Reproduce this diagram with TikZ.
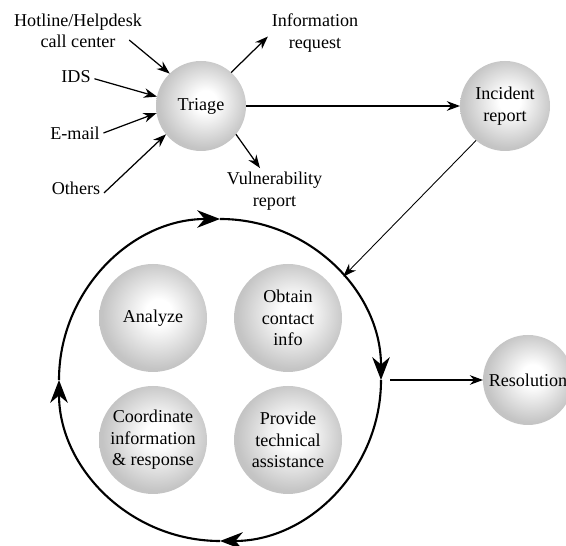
\documentclass[tikz,border=0pt]{standalone}
\usepackage{fontspec}
\setmainfont{Liberation Serif}
\usepackage{tikz}
\usetikzlibrary{positioning,calc,arrows.meta}

% soft grey sphere look
\pgfdeclareradialshading{greyball}{\pgfpoint{3bp}{3bp}}{color(0bp)=(white); color(6bp)=(white); color(25bp)=(black!23); color(50bp)=(black!23)}

\begin{document}
\begin{tikzpicture}[
  txt/.style={font=\fontsize{10.3}{12.3}\selectfont, align=center},
  lbl/.style={txt, inner sep=2pt},
  sphere/.style={txt, circle, shading=greyball, inner sep=0pt, outer sep=0pt, minimum size=1.8cm},
  bigsphere/.style={sphere, minimum size=2.16cm},
  conn/.style={line width=0.7pt, -{Stealth[length=7.5pt,width=5.5pt]}},
  ringline/.style={line width=1.2pt, -{Stealth[length=13pt,width=10pt]}}
]
\useasboundingbox (0,0) rectangle (11.32,10.92);

% Intake side
\node[sphere] (triage) at (4.02,8.80) {Triage};
\node[lbl] (hotline) at (1.56,10.30) {Hotline/Helpdesk\\call center};
\node[lbl] (ids) at (1.52,9.38) {IDS};
\node[lbl] (email) at (1.50,8.26) {E-mail};
\node[lbl] (others) at (1.52,7.16) {Others};
\node[lbl] (info) at (6.30,10.26) {Information\\request};
\node[lbl] (vuln) at (5.49,7.10) {Vulnerability\\report};

\draw[conn] ([shift={(-0.33,0.24)}]hotline.south east) -- (triage.134);
\draw[conn] ([yshift=-1pt]ids.east) -- (triage.168);
\draw[conn] (email.east) -- (triage.189);
\draw[conn] ([yshift=3pt]others.south east) -- (triage.219);
\draw[conn] (triage.48) -- ([yshift=-2pt]info.west);
\draw[conn] (triage.-39) -- ([xshift=-0.29cm]vuln.north);

% Incident handling
\node[sphere] (incident) at (10.10,8.80) {Incident\\report};
\draw[conn] (triage.east) -- (incident.west);

% Handling cycle
\node[circle, inner sep=0pt, outer sep=0pt, minimum size=6.44cm] (ring) at (4.40,3.32) {};
\draw[ringline] (ring.west) arc[start angle=180, end angle=90, radius=3.22];
\draw[ringline] (ring.north) arc[start angle=90, end angle=0, radius=3.22];
\draw[ringline] (ring.east) arc[start angle=0, end angle=-90, radius=3.22];
\draw[ringline] (ring.south) arc[start angle=-90, end angle=-180, radius=3.22];

\node[bigsphere] (analyze) at (3.06,4.56) {Analyze};
\node[bigsphere] (contact) at (5.76,4.56) {Obtain\\contact\\info};
\node[bigsphere] (coord) at (3.06,2.12) {Coordinate\\information\\\& response};
\node[bigsphere] (assist) at (5.76,2.12) {Provide\\technical\\assistance};

\draw[line width=0.5pt, -{Stealth[length=7.5pt,width=5.5pt]}] (incident.230) -- (ring.40);

% Outcome
\node[sphere] (resolution) at (10.56,3.32) {Resolution};
\draw[conn] ([xshift=0.18cm]ring.east) -- (resolution.west);

\end{tikzpicture}
\end{document}
